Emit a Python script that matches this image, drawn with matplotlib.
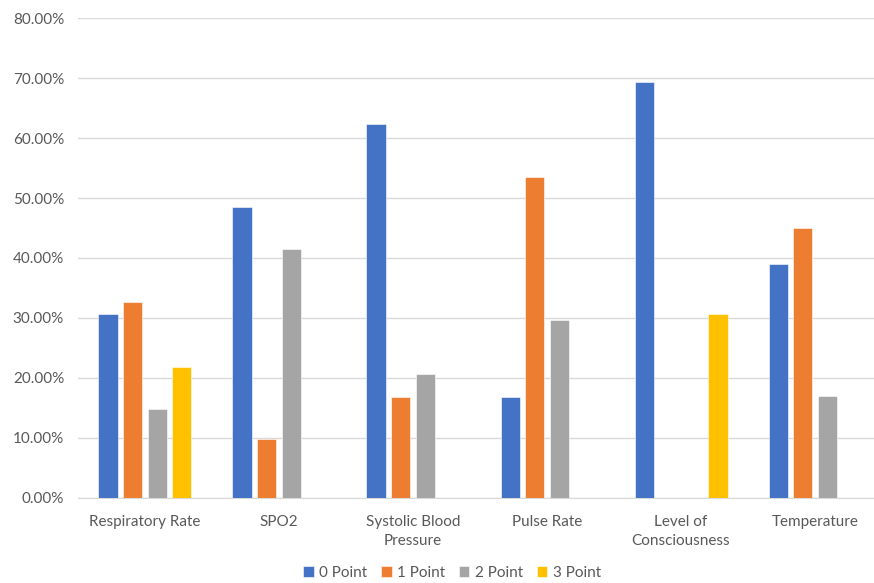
import numpy as np
import matplotlib.pyplot as plt
from matplotlib.ticker import PercentFormatter

categories = ['Respiratory Rate', 'SPO2', 'Systolic Blood\nPressure', 'Pulse Rate',
              'Level of\nConsciousness', 'Temperature']
series_names = ['0 Point', '1 Point', '2 Point', '3 Point']
point0 = [30.67, 48.5, 62.39, 16.78, 69.28, 39.0]
point1 = [32.67, 9.83, 16.78, 53.44, 0.0, 45.0]
point2 = [14.89, 41.56, 20.72, 29.67, 0.0, 17.0]
point3 = [21.78, 0.0, 0.0, 0.0, 30.72, 0.0]
colors = ['#4472C4', '#ED7D31', '#A5A5A5', '#FFC000']

plt.rcParams['font.family'] = ['Lato', 'DejaVu Sans']

fig = plt.figure(figsize=(8.74, 5.83), dpi=100)
# plot area runs a little past the right edge of the figure
ax = fig.add_axes([0.0892, 0.146, 0.92, 0.823])

x = np.arange(len(categories))
step = 0.183
width = 0.145
for i, (vals, name) in enumerate(zip([point0, point1, point2, point3], series_names)):
    ax.bar(x + (i - 1.5) * step, vals, width, color=colors[i], label=name,
           edgecolor='white', linewidth=0.4, zorder=3)

ax.set_xlim(-0.5, len(categories) - 0.5)
ax.set_ylim(0, 80)
ax.set_yticks(np.arange(0, 81, 10))
ax.yaxis.set_major_formatter(PercentFormatter(decimals=2))
ax.grid(axis='y', color='#D9D9D9', linewidth=1, zorder=0)
ax.set_xticks(x)
ax.set_xticklabels(categories, linespacing=1.5)
ax.tick_params(axis='both', length=0, labelsize=11, colors='#595959')
ax.tick_params(axis='x', pad=12)
ax.tick_params(axis='y', pad=10)
for side in ['top', 'right', 'left']:
    ax.spines[side].set_visible(False)
ax.spines['bottom'].set_color('#D9D9D9')

handles, labels = ax.get_legend_handles_labels()
fig.legend(handles, labels, loc='center', bbox_to_anchor=(0.517, 0.017), ncol=4,
           frameon=False, fontsize=11, labelcolor='#595959', handlelength=0.7,
           handleheight=0.7, handletextpad=0.35, columnspacing=0.9)

fig.savefig('out.png', dpi=100, facecolor='white')
